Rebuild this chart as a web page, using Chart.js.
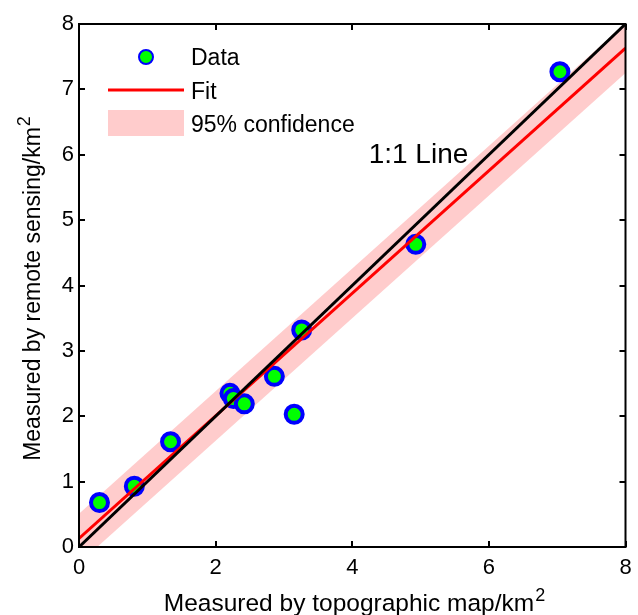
<!DOCTYPE html>
<html>
<head>
<meta charset="utf-8">
<script src="https://cdn.jsdelivr.net/npm/chart.js@4.4.0/dist/chart.umd.min.js"></script>
<style>
html, body { margin: 0; padding: 0; background: #fff; overflow: hidden; }
#wrap { width: 638px; height: 615px; }
canvas { display: block; }
</style>
</head>
<body>
<div id="wrap"><canvas id="myChart"></canvas></div>
<script>
// measured areas (km2)
const topoArea   = [0.30, 0.81, 1.34, 2.21, 2.26, 2.42, 2.86, 3.15, 3.26, 4.93, 7.04];
const remoteArea = [0.68, 0.93, 1.61, 2.35, 2.27, 2.19, 2.61, 2.03, 3.32, 4.63, 7.27];

// fit line, 95% band and 1:1 line at the two ends of the axis
const lineX    = [0, 8];
const fitY     = [0.13, 7.63];
const upperY   = [0.51, 8.01];
const lowerY   = [-0.25, 7.25];
const oneToOne = [0, 8];

const xTicks = [0, 2, 4, 6, 8];
const yTicks = [0, 1, 2, 3, 4, 5, 6, 7, 8];
const legendNames = ['Data', 'Fit', '95% confidence'];
const xTitle = 'Measured by topographic map/km';
const yTitle = 'Measured by remote sensing/km';
const unitPower = '2';
const lineLabel = '1:1 Line';
const lineLabelAt = [4.24, 5.87];

const FONT = '"Liberation Sans", Arial, Helvetica, sans-serif';

function pts(ys) {
  return lineX.map((x, i) => ({ x: x, y: ys[i] }));
}

const data = {
  datasets: [
    {
      type: 'line', label: 'upper', data: pts(upperY),
      borderWidth: 0, pointRadius: 0, fill: '+1',
      backgroundColor: '#ffcccc', borderColor: 'rgba(0,0,0,0)', clip: 0, order: 5
    },
    {
      type: 'line', label: 'lower', data: pts(lowerY),
      borderWidth: 0, pointRadius: 0, fill: false,
      borderColor: 'rgba(0,0,0,0)', clip: 0, order: 6
    },
    {
      type: 'line', label: legendNames[1], data: pts(fitY),
      borderColor: '#ff0000', borderWidth: 3, pointRadius: 0, fill: false, order: 2
    },
    {
      type: 'line', label: '1:1', data: pts(oneToOne),
      borderColor: '#000000', borderWidth: 3, pointRadius: 0, fill: false, order: 1
    },
    {
      type: 'scatter', label: legendNames[0],
      data: topoArea.map((x, i) => ({ x: x, y: remoteArea[i] })),
      backgroundColor: '#00ff00', borderColor: '#0000ff',
      pointRadius: 8.5, borderWidth: 4, clip: false, order: 3
    }
  ]
};

// box, inward ticks, x tick labels, legend and titles in the MATLAB style
const framePlugin = {
  id: 'frame',
  afterDraw(chart) {
    const ctx = chart.ctx;
    const a = chart.chartArea;
    const xs = chart.scales.x, ys = chart.scales.y;
    ctx.save();

    ctx.strokeStyle = '#000';
    ctx.lineWidth = 2;
    ctx.strokeRect(a.left, a.top, a.right - a.left, a.bottom - a.top);

    const tl = 6;
    ctx.beginPath();
    xTicks.forEach(v => {
      const px = Math.round(xs.getPixelForValue(v));
      ctx.moveTo(px, a.bottom); ctx.lineTo(px, a.bottom - tl);
      ctx.moveTo(px, a.top); ctx.lineTo(px, a.top + tl);
    });
    yTicks.forEach(v => {
      const py = Math.round(ys.getPixelForValue(v));
      ctx.moveTo(a.left, py); ctx.lineTo(a.left + tl, py);
      ctx.moveTo(a.right, py); ctx.lineTo(a.right - tl, py);
    });
    ctx.stroke();

    // x tick labels (centred on the tick, last one runs off the canvas)
    ctx.fillStyle = '#000';
    ctx.font = '22px ' + FONT;
    ctx.textAlign = 'center';
    ctx.textBaseline = 'alphabetic';
    xTicks.forEach(v => {
      ctx.fillText(String(v), xs.getPixelForValue(v), a.bottom + 27);
    });

    // legend
    ctx.font = '23px ' + FONT;
    ctx.textAlign = 'left';

    ctx.beginPath();
    ctx.arc(146, 57, 7, 0, Math.PI * 2);
    ctx.fillStyle = '#00ff00';
    ctx.fill();
    ctx.lineWidth = 2;
    ctx.strokeStyle = '#0000ff';
    ctx.stroke();

    ctx.beginPath();
    ctx.moveTo(108, 90); ctx.lineTo(184, 90);
    ctx.lineWidth = 3;
    ctx.strokeStyle = '#ff0000';
    ctx.stroke();

    ctx.fillStyle = '#ffcccc';
    ctx.fillRect(108, 110, 76, 26);

    ctx.fillStyle = '#000';
    ctx.fillText(legendNames[0], 191, 65);
    ctx.fillText(legendNames[1], 191, 99);
    ctx.fillText(legendNames[2], 191, 132);

    // 1:1 label
    ctx.font = '28px ' + FONT;
    ctx.fillText(lineLabel, xs.getPixelForValue(lineLabelAt[0]), ys.getPixelForValue(lineLabelAt[1]));

    // axis titles with superscript
    function titleWithPower(text, size, cx, base) {
      ctx.font = size + 'px ' + FONT;
      const w1 = ctx.measureText(text).width;
      ctx.font = '18px ' + FONT;
      const w2 = ctx.measureText(unitPower).width;
      const x0 = cx - (w1 + w2) / 2;
      ctx.font = size + 'px ' + FONT;
      ctx.fillText(text, x0, base);
      ctx.font = '18px ' + FONT;
      ctx.fillText(unitPower, x0 + w1 + 1, base - 10);
    }
    titleWithPower(xTitle, 24.5, 354, 611);

    ctx.save();
    ctx.translate(40, 289);
    ctx.rotate(-Math.PI / 2);
    titleWithPower(yTitle, 23, 0, 0);
    ctx.restore();

    ctx.restore();
  }
};

function noPad(s) {
  s.paddingLeft = 0; s.paddingRight = 0; s.paddingTop = 0; s.paddingBottom = 0;
}

const config = {
  type: 'scatter',
  data: data,
  options: {
    responsive: true,
    maintainAspectRatio: false,
    animation: false,
    layout: { padding: { top: 24, right: 6, bottom: 0, left: 0 } },
    plugins: {
      legend: { display: false },
      tooltip: { enabled: false }
    },
    scales: {
      x: {
        type: 'linear', min: 0, max: 8,
        grid: { display: false, drawTicks: false, tickLength: 0 },
        border: { display: false },
        ticks: { display: false, stepSize: 2 },
        afterFit: s => { s.height = 68; noPad(s); }
      },
      y: {
        type: 'linear', min: 0, max: 8,
        grid: { display: false, drawTicks: false, tickLength: 0 },
        border: { display: false },
        ticks: { stepSize: 1, color: '#000', padding: 5, font: { size: 22, family: FONT } },
        afterFit: s => { s.width = 79; noPad(s); }
      }
    }
  },
  plugins: [framePlugin]
};

const myChart = new Chart(document.getElementById('myChart'), config);
</script>
</body>
</html>
